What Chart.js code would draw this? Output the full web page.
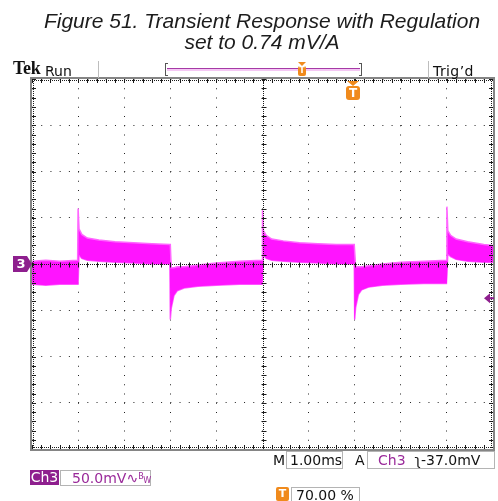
<!DOCTYPE html>
<html>
<head>
<meta charset="utf-8">
<script src="https://cdn.jsdelivr.net/npm/chart.js@4/dist/chart.umd.min.js"></script>
<style>
  html, body { margin:0; padding:0; background:#fff; }
  #wrap { position:relative; width:498px; height:501px; overflow:hidden; }
  #c { position:absolute; left:0; top:0; }
  .abs { position:absolute; white-space:nowrap; }
  .ui { font-family:"DejaVu Sans", sans-serif; font-size:14px; color:#111; line-height:16px; }
  .box { position:absolute; box-sizing:border-box; border:1px solid #b4b4b4; }
  .purple { color:#9a2a9a; }
</style>
</head>
<body>
<div id="wrap">
  <canvas id="c" width="498" height="501"></canvas>

  <!-- title -->
  <div class="abs" style="left:0; top:10px; width:524px; text-align:center; font-family:'Liberation Sans', Arial, sans-serif; font-style:italic; font-size:21px; line-height:21px; color:#1c1c1c;">
    Figure 51. Transient Response with Regulation<br>set to 0.74 mV/A
  </div>

  <!-- top status bar -->
  <div class="abs" style="left:13px; top:59px; font-family:'Liberation Serif', serif; font-weight:bold; font-size:18px; line-height:19px; color:#111; letter-spacing:-0.3px;">Tek</div>
  <div class="abs ui" style="left:45px; top:63px;">Run</div>
  <div class="abs" style="left:98px; top:61px; width:1px; height:17px; background:#bdbdbd;"></div>
  <div class="abs" style="left:428px; top:61px; width:1px; height:17px; background:#bdbdbd;"></div>
  <div class="abs ui" style="left:433px; top:63px; letter-spacing:0.4px;">Trig’d</div>

  <!-- record bar -->
  <div class="abs" style="left:165px; top:63px; width:3px; height:13px; border:1px solid #555; border-right:none; box-sizing:border-box;"></div>
  <div class="abs" style="left:359px; top:63px; width:3px; height:13px; border:1px solid #555; border-left:none; box-sizing:border-box;"></div>
  <div class="abs" style="left:167px; top:68px; width:193px; height:1px; background:#a63aa6;"></div>
  <div class="abs" style="left:167px; top:69px; width:193px; height:2px; background:#f4c8f4;"></div>
  <div class="abs" style="left:298px; top:62px; width:0; height:0; border-left:4px solid transparent; border-right:4px solid transparent; border-top:4px solid #f08a1c;"></div>
  <div class="abs" style="left:298px; top:66px; width:8px; height:10px; background:#f08a1c; border-radius:2px; color:#fff; font:bold 8px 'DejaVu Sans'; line-height:10px; text-align:center;">T</div>

  <!-- trigger position marker -->
  <div class="abs" style="left:347px; top:81px; width:0; height:0; border-left:6px solid transparent; border-right:6px solid transparent; border-top:5px solid #f08a1c;"></div>
  <div class="abs" style="left:346px; top:86px; width:14px; height:14px; background:#f08a1c; border-radius:3px; color:#fff; font:bold 12px 'DejaVu Sans'; line-height:14px; text-align:center;">T</div>

  <!-- bottom readouts -->
  <div class="abs ui" style="left:273px; top:452px;">M</div>
  <div class="box ui" style="left:286px; top:451px; width:57px; height:18px; padding-left:3px;">1.00ms</div>
  <div class="abs ui" style="left:355px; top:452px;">A</div>
  <div class="box ui" style="left:367px; top:451px; width:128px; height:18px; padding-left:10px;"><span class="purple">Ch3</span>&nbsp;&nbsp;<span>ʅ-37.0mV</span></div>

  <div class="abs ui" style="left:30px; top:470px; width:29px; height:15px; background:#8e1f8e; color:#fff; line-height:15px; text-align:center;">Ch3</div>
  <div class="box ui" style="left:60px; top:470px; width:91px; height:16px; padding-left:11px; line-height:14px;"><span class="purple">50.0mV∿<span style="font-size:8px; position:relative; top:-4px;">B</span><span style="font-size:8px;">W</span></span></div>

  <div class="abs" style="left:276px; top:487px; width:13px; height:14px; background:#f08a1c; border-radius:2px; color:#fff; font:bold 11px 'DejaVu Sans'; line-height:14px; text-align:center;">T</div>
  <div class="box ui" style="left:291px; top:487px; width:69px; height:16px; padding-left:4px; line-height:14px;">70.00 %</div>
</div>

<script>
// ---- data (Ch3, 50 mV/div, 1 ms/div) ----
const timeMs = [
  0.00, 0.30, 0.60, 0.99,
  1.00, 1.02, 1.08, 1.20, 1.45, 1.80, 2.20, 2.60, 2.99,
  3.00, 3.02, 3.08, 3.15, 3.30, 3.60, 4.00, 4.50, 4.99,
  5.00, 5.02, 5.08, 5.20, 5.45, 5.80, 6.20, 6.60, 6.99,
  7.00, 7.02, 7.08, 7.15, 7.30, 7.60, 8.00, 8.50, 8.99,
  9.00, 9.02, 9.08, 9.20, 9.45, 9.80, 10.00
];
// upper edge of the noise band (mV)
const upperMv = [
  3, 4, 3, 4,
  60, 38, 32, 28, 26, 24, 23, 22, 21,
  21, -4, -4, -3, -3, -1, 1, 3, 4,
  58, 36, 31, 27, 25, 23, 22, 21, 21,
  21, -3, -3, -3, -2, 0, 2, 3, 4,
  62, 36, 31, 27, 24, 21, 20
];
// lower edge of the noise band (mV)
const lowerMv = [
  -22, -23, -22, -22,
  -22, 10, 6, 4, 3, 2, 1, 0, 0,
  -60, -48, -34, -29, -26, -24, -23, -22, -22,
  -22, 10, 6, 4, 3, 2, 1, 0, 0,
  -60, -47, -33, -28, -25, -23, -22, -21, -21,
  -21, 11, 8, 5, 3, 2, 2
];
const xRangeMs = [0, 10];      // 10 divisions x 1.00 ms
const yRangeMv = [-200, 200];  // 8 divisions x 50.0 mV
const msPerDiv = 1;
const mvPerDiv = 50;
const triggerLevelMv = -37;
const channelLabel = '3';

const WAVE = '#ff14ff';
const EDGE = '#ff66ff';
const PURPLE = '#8e1f8e';

const graticule = {
  id: 'graticule',
  afterDraw(chart) {
    const { ctx, chartArea: a, scales: { x, y } } = chart;
    ctx.save();
    const minorX = [], minorY = [];
    for (let i = 0; i <= 50; i++) minorX.push(x.getPixelForValue(xRangeMs[0] + i * msPerDiv / 5));
    for (let i = 0; i <= 40; i++) minorY.push(y.getPixelForValue(yRangeMv[0] + i * mvPerDiv / 5));
    const cx = Math.round(x.getPixelForValue((xRangeMs[0] + xRangeMs[1]) / 2)) + 0.5;
    const cy = Math.round(y.getPixelForValue(0)) + 0.5;

    ctx.strokeStyle = '#1a1a1a';
    ctx.lineWidth = 1;
    ctx.setLineDash([1, 1]);
    ctx.beginPath();
    ctx.moveTo(a.left, cy); ctx.lineTo(a.right, cy);
    ctx.moveTo(cx, a.top); ctx.lineTo(cx, a.bottom);
    ctx.moveTo(a.left, a.top + 1.5); ctx.lineTo(a.right, a.top + 1.5);
    ctx.moveTo(a.left, a.bottom - 1.5); ctx.lineTo(a.right, a.bottom - 1.5);
    ctx.moveTo(a.left + 1.5, a.top); ctx.lineTo(a.left + 1.5, a.bottom);
    ctx.moveTo(a.right - 1.5, a.top); ctx.lineTo(a.right - 1.5, a.bottom);
    ctx.stroke();
    ctx.setLineDash([]);
    ctx.beginPath();
    minorX.forEach(px => {
      const p = Math.round(px) + 0.5;
      ctx.moveTo(p, cy - 2); ctx.lineTo(p, cy + 3);
      ctx.moveTo(p, a.top); ctx.lineTo(p, a.top + 4);
      ctx.moveTo(p, a.bottom); ctx.lineTo(p, a.bottom - 4);
    });
    minorY.forEach(py => {
      const p = Math.round(py) + 0.5;
      ctx.moveTo(cx - 2, p); ctx.lineTo(cx + 3, p);
      ctx.moveTo(a.left, p); ctx.lineTo(a.left + 4, p);
      ctx.moveTo(a.right, p); ctx.lineTo(a.right - 4, p);
    });
    ctx.stroke();

    ctx.strokeStyle = '#858585';
    ctx.lineWidth = 2;
    ctx.strokeRect(a.left - 1, a.top - 1, a.width + 2, a.height + 2);

    const gy = y.getPixelForValue(0);
    ctx.fillStyle = PURPLE;
    ctx.beginPath();
    ctx.moveTo(13, gy - 8); ctx.lineTo(27, gy - 8); ctx.lineTo(32, gy);
    ctx.lineTo(27, gy + 8); ctx.lineTo(13, gy + 8); ctx.closePath();
    ctx.fill();
    ctx.fillStyle = '#fff';
    ctx.font = 'bold 13px "DejaVu Sans"';
    ctx.textAlign = 'center';
    ctx.textBaseline = 'middle';
    ctx.fillText(channelLabel, 21, gy + 1);

    const ty = y.getPixelForValue(triggerLevelMv);
    ctx.fillStyle = PURPLE;
    ctx.beginPath();
    ctx.moveTo(484, ty); ctx.lineTo(490, ty - 5); ctx.lineTo(490, ty + 5); ctx.closePath();
    ctx.fill();
    ctx.fillRect(489, ty - 1, 5, 2);
    ctx.restore();
  }
};

const toPts = arr => timeMs.map((t, i) => ({ x: t, y: arr[i] }));

new Chart(document.getElementById('c'), {
  type: 'line',
  data: {
    datasets: [
      { label: 'Ch3 upper', data: toPts(upperMv), borderColor: EDGE, backgroundColor: WAVE,
        borderWidth: 1.5, fill: '+1', pointRadius: 0, tension: 0 },
      { label: 'Ch3 lower', data: toPts(lowerMv), borderColor: EDGE, backgroundColor: WAVE,
        borderWidth: 1.5, fill: false, pointRadius: 0, tension: 0 }
    ]
  },
  options: {
    responsive: false,
    animation: false,
    devicePixelRatio: 1,
    layout: { padding: { left: 32, top: 79, right: 5, bottom: 52 } },
    plugins: { legend: { display: false }, tooltip: { enabled: false }, title: { display: false } },
    scales: {
      x: { type: 'linear', min: xRangeMs[0], max: xRangeMs[1],
           ticks: { stepSize: msPerDiv, display: false },
           grid: { color: '#222', lineWidth: 1, drawTicks: false },
           border: { display: false, dash: [1, 8.25] }, z: 1 },
      y: { type: 'linear', min: yRangeMv[0], max: yRangeMv[1],
           ticks: { stepSize: mvPerDiv, display: false },
           grid: { color: '#222', lineWidth: 1, drawTicks: false },
           border: { display: false, dash: [1, 8.22] }, z: 1 }
    }
  },
  plugins: [graticule]
});
</script>
</body>
</html>
